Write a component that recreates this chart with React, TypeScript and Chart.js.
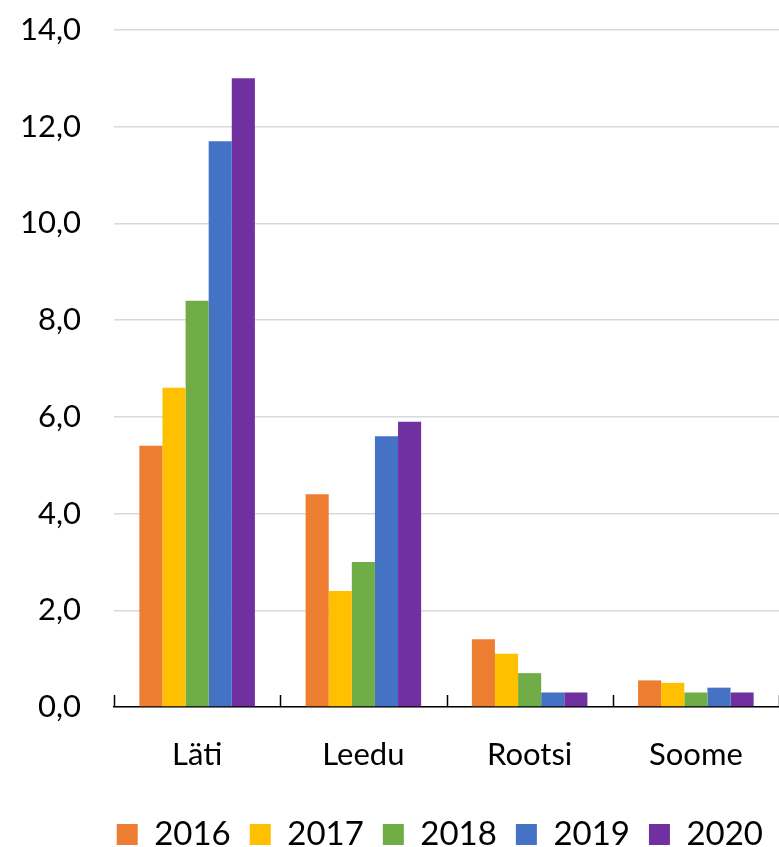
import React, { useEffect, useRef } from "react";
import { Chart, registerables } from "chart.js";

Chart.register(...registerables);

const categories = ["Läti", "Leedu", "Rootsi", "Soome"];
const seriesNames = ["2016", "2017", "2018", "2019", "2020"];
const values2016 = [5.4, 4.4, 1.4, 0.55];
const values2017 = [6.6, 2.4, 1.1, 0.5];
const values2018 = [8.4, 3.0, 0.7, 0.3];
const values2019 = [11.7, 5.6, 0.3, 0.4];
const values2020 = [13.0, 5.9, 0.3, 0.3];
const colors = ["#ED7D31", "#FFC000", "#70AD47", "#4472C4", "#7030A0"];

const FONT = "Lato, 'Open Sans', sans-serif";

const tickMarks = {
  id: "tickMarks",
  afterDraw(chart: any) {
    const xs = chart.scales.x;
    const ctx = chart.ctx;
    const bottom = chart.chartArea.bottom;
    const step = xs.getPixelForValue(1) - xs.getPixelForValue(0);
    ctx.save();
    ctx.strokeStyle = "#000";
    ctx.lineWidth = 1.5;
    for (let i = 0; i <= categories.length; i++) {
      const x = Math.round(xs.getPixelForValue(i) - step / 2) + 0.5;
      ctx.beginPath();
      ctx.moveTo(x, bottom);
      ctx.lineTo(x, bottom - 12);
      ctx.stroke();
    }
    ctx.restore();
  },
};

export default function App() {
  const ref = useRef<HTMLCanvasElement>(null);
  useEffect(() => {
    const all = [values2016, values2017, values2018, values2019, values2020];
    const chart = new Chart(ref.current!, {
      type: "bar",
      data: {
        labels: categories,
        datasets: seriesNames.map((n, i) => ({
          label: n,
          data: all[i],
          backgroundColor: colors[i],
          borderWidth: 0,
          categoryPercentage: 0.695,
          barPercentage: 1.0,
        })),
      },
      options: {
        responsive: false,
        animation: false,
        layout: { padding: { top: 30, right: -3, left: 0, bottom: -14 } },
        plugins: {
          legend: {
            position: "bottom",
            align: "end",
            labels: {
              boxWidth: 21,
              boxHeight: 21,
              padding: 19,
              color: "#000",
              font: { family: FONT, size: 33 },
            },
          },
          tooltip: { enabled: false },
        },
        scales: {
          x: {
            grid: { display: false, drawTicks: false },
            border: { display: true, color: "#000", width: 1.5 },
            ticks: { color: "#000", font: { family: FONT, size: 31 }, padding: 29 },
            afterFit: (s: any) => {
              s.height = 92;
            },
          },
          y: {
            min: 0,
            max: 14,
            grid: { color: "#d9d9d9", lineWidth: 1.5, drawTicks: false },
            border: { display: false },
            ticks: {
              stepSize: 2,
              color: "#000",
              padding: 33,
              font: { family: FONT, size: 31 },
              callback: (v: any) => Number(v).toFixed(1).replace(".", ","),
            },
            afterFit: (s: any) => {
              s.width = 114;
              s.paddingTop = 0;
              s.paddingBottom = 0;
            },
          },
        },
      },
      plugins: [tickMarks],
    });
    return () => chart.destroy();
  }, []);
  return (
    <div style={{ position: "absolute", left: 0, top: 0, width: 779, height: 847, background: "#fff" }}>
      <canvas ref={ref} width={779} height={847} />
    </div>
  );
}
